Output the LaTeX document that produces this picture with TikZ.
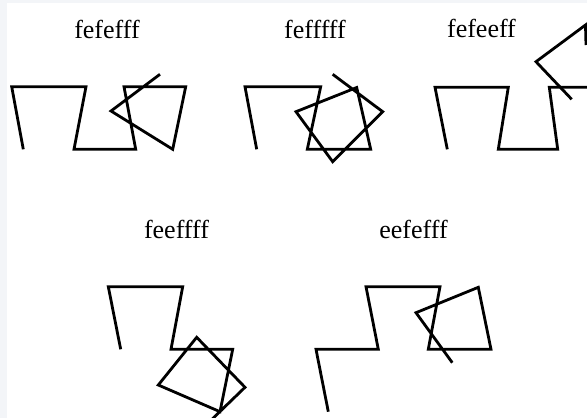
\documentclass[tikz,border=0pt]{standalone}
\usepackage{fontspec}
\setmainfont{Liberation Serif}
\definecolor{edgegray}{HTML}{F3F5F8}
\begin{document}
\begin{tikzpicture}[x=1pt,y=-1pt,
  turtle/.style={line width=2.8pt, line join=miter, black},
  lbl/.style={font=\fontsize{26}{29}\selectfont, inner sep=0pt, anchor=base}]
\useasboundingbox (0,0) rectangle (587,418);
\fill[edgegray] (0,0) rectangle (587,418);
\fill[white] (7,3) rectangle (587,418);
\begin{scope}
\clip (0,0) rectangle (587,418);
% 1: fefefff
\draw[turtle] (23.3,149.3) -- (11.7,86.7) -- (86,86.7) -- (74,149.3) -- (135.7,149.3)
  -- (124,86.7) -- (185.7,86.7) -- (172.7,149.3) -- (111,111) -- (160,74.3);
% 2: fefffff
\draw[turtle] (256.7,149.3) -- (245,86.7) -- (320.7,86.7) -- (307.3,149.3) -- (370.7,149.3)
  -- (356.7,87.5) -- (296,111.7) -- (332.7,161.7) -- (382.7,111.7) -- (332.7,74.3);
% 3: fefeeff
\draw[turtle] (447.3,149.3) -- (435,87.3) -- (508.3,87.3) -- (498.3,149.3) -- (557.7,149.3)
  -- (549.3,87.3) -- (600,87.3);
\draw[turtle] (586,45) -- (585.5,25) -- (536,61.7) -- (571.7,99.3);
% 4: feeffff
\draw[turtle] (120.7,349.3) -- (108.3,286.7) -- (182.7,286.7) -- (171,349.3) -- (232.7,349.3)
  -- (220,411.7) -- (158.3,385) -- (196.7,337.3) -- (245,387.3) -- (205,426);
% 5: eefefff
\draw[turtle] (328.3,411.7) -- (316,349.3) -- (378.3,349.3) -- (366,286.7) -- (440,286.7)
  -- (428.3,349.3) -- (491,349.3) -- (478.3,287.3) -- (416,312.7) -- (452.3,362.7);
\end{scope}
\node[lbl] (t1) at (107,38) {fefefff};
\node[lbl] (t2) at (315,38) {fefffff};
\node[lbl] (t3) at (481.5,37) {fefeeff};
\node[lbl] (t4) at (176.5,238) {feeffff};
\node[lbl] (t5) at (413.5,238) {eefefff};
\end{tikzpicture}
\end{document}
